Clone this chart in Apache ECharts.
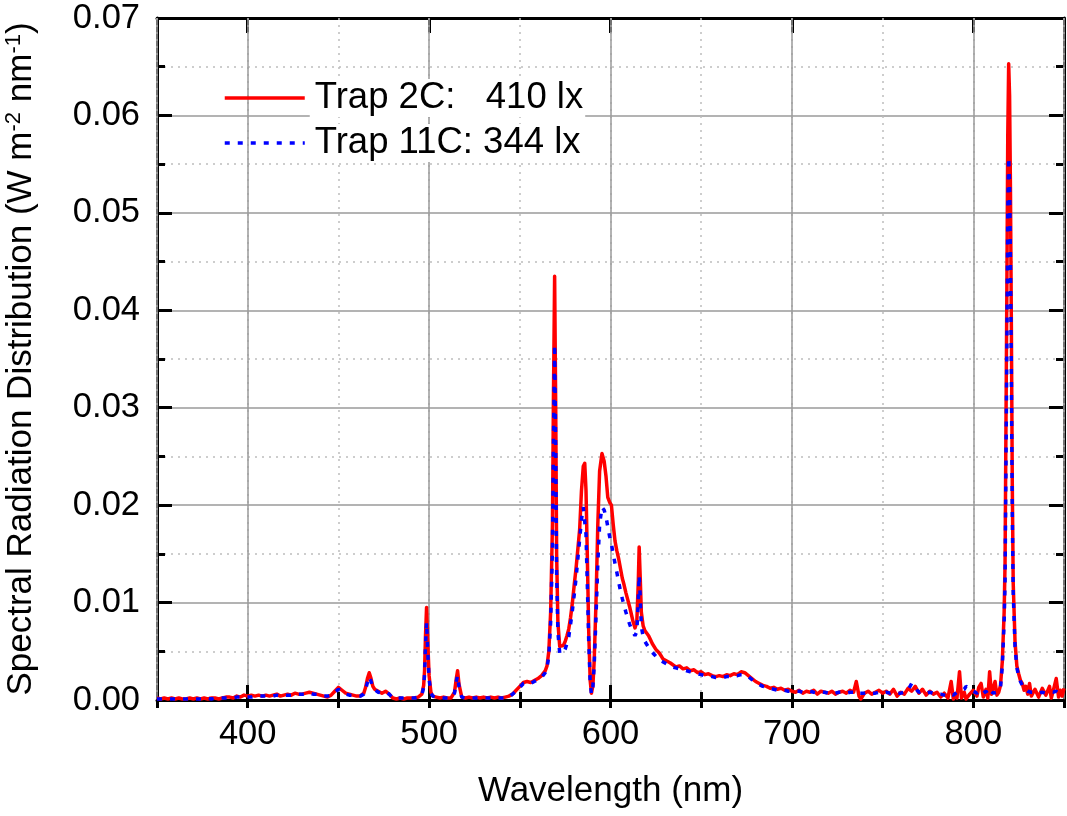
<!DOCTYPE html>
<html>
<head>
<meta charset="utf-8">
<script src="https://cdn.jsdelivr.net/npm/echarts@6/dist/echarts.min.js"></script>
<style>
html,body{margin:0;padding:0;background:#fff;}
#chart{width:1067px;height:816px;}
</style>
</head>
<body>
<div id="chart"></div>
<script>
// Wavelengths (nm)
var wavelength = [
  350,352,354,356,358,360,362,364,366,368,
  370,372,374,376,378,380,382,384,386,388,
  390,392,394,396,398,400,402,404,406,408,
  410,412,414,416,418,420,422,424,426,428,
  430,432,434,436,438,440,
  442,444,446,448,450,452,454,456,458,460,
  462,464,465,466,467,468,469,470,472,474,
  476,478,480,482,484,486,488,490,492,494,
  496,497,497.5,498,498.6,499.2,500,501,502,504,
  506,508,510,512,513,514,515,515.7,516.5,518,
  520,522,524,526,528,530,532,534,536,538,
  540,542,544,
  546,548,550,552,554,556,558,560,562,564,
  565,566,567,568,568.5,569.2,569.8,570.3,571,572,
  573,574,575,576,577,578,579,580,581,582,
  583,584,585,585.8,586.5,587.2,588,588.8,589.5,590.3,
  591,592,593,594,595.3,596.5,597.5,598.5,599.5,600.5,
  601.5,602.5,603.5,604.5,605.5,606.5,607.5,608.5,609.5,610.5,
  611.5,612.5,613.5,614.5,615.3,615.8,616.4,617,618,619,
  620,621,622,623,624,625,626,627,628,629,
  630,631,632,633,634,636,638,640,
  642,644,646,648,650,652,654,656,658,660,
  662,664,666,668,670,672,674,676,678,680,
  682,684,686,688,690,692,694,696,698,700,
  702,704,706,708,710,712,714,716,718,720,
  722,724,726,728,730,732,734,735.5,737,738,
  740,742,744,746,748,750,752,754,756,758,
  760,762,764,766,768,770,772,774,776,778,
  780,782,784,786,787.8,789,790,791,792.4,793.5,
  795,796,798,800,802,803,804.3,805.5,807,808,
  809,810,811,812,813,814,
  815,816,817,817.5,818,818.5,819,819.5,820,820.5,
  821,821.5,822,823,824,825,826,827,828,829,
  830,831,832,834,836,838,840,842,843,844,
  845.7,847,848,849,850
];

// Trap 2C: 410 lx (W m-2 nm-1)
var trap2C = [
  .0002,.0001,.0002,.0001,.0002,.0001,.0002,.0001,.0001,.0002,
  .0001,.0002,.0001,.0002,.0001,.0002,.0002,.0001,.0002,.0003,
  .0003,.0002,.0004,.0003,.0005,.0004,.0005,.0004,.0005,.0004,
  .0005,.0004,.0005,.0006,.0004,.0005,.0006,.0005,.0007,.0006,
  .0006,.0007,.0008,.0007,.0006,.0005,
  .0004,.0003,.0005,.0009,.0013,.0010,.0007,.0006,.0005,.0004,
  .0004,.0007,.0013,.0022,.0028,.0022,.0014,.0011,.0009,.0007,
  .0009,.0006,.0002,.0001,.0002,.0001,.0002,.0002,.0002,.0003,
  .0006,.0015,.0030,.0065,.0095,.0062,.0025,.0008,.0004,.0003,
  .0002,.0003,.0002,.0002,.0003,.0008,.0022,.0030,.0016,.0003,
  .0002,.0003,.0002,.0003,.0002,.0003,.0002,.0003,.0002,.0003,
  .0002,.0003,.0004,
  .0006,.0010,.0014,.0018,.0019,.0018,.0020,.0022,.0025,.0030,
  .0035,.0050,.0090,.0180,.0300,.0435,.0300,.0150,.0080,.0055,
  .0053,.0056,.0060,.0066,.0073,.0085,.0100,.0118,.0135,.0155,
  .0175,.0215,.0240,.0243,.0215,.0150,.0070,.0020,.0007,.0015,
  .0040,.0100,.0180,.0235,.0253,.0245,.0230,.0208,.0203,.0200,
  .0180,.0163,.0153,.0145,.0135,.0125,.0118,.0110,.0103,.0096,
  .0088,.0080,.0074,.0080,.0120,.0157,.0125,.0090,.0076,.0071,
  .0069,.0066,.0062,.0058,.0056,.0052,.0050,.0048,.0046,.0042,
  .0044,.0040,.0041,.0038,.0037,.0034,.0035,.0032,
  .0033,.0030,.0031,.0028,.0029,.0026,.0027,.0025,.0024,.0025,
  .0024,.0026,.0025,.0027,.0026,.0029,.0028,.0025,.0022,.0019,
  .0017,.0015,.0014,.0012,.0013,.0011,.0012,.0010,.0011,.0009,
  .0008,.0010,.0007,.0009,.0008,.0010,.0006,.0009,.0008,.0007,
  .0009,.0006,.0008,.0009,.0007,.0010,.0008,.0019,.0004,.0001,
  .0007,.0009,.0006,.0008,.0010,.0007,.0009,.0006,.0011,.0004,
  .0008,.0006,.0012,.0009,.0014,.0007,.0011,.0005,.0009,.0006,
  .0008,.0003,.0007,.0002,.0019,.0001,.0006,.0002,.0029,.0002,
  .0008,.0001,.0006,.0010,.0004,.0013,.0017,.0003,.0011,.0002,
  .0029,.0006,.0004,.0019,.0005,.0008,
  .0015,.0040,.0090,.0140,.0280,.0420,.0580,.0653,.0620,.0520,
  .0380,.0220,.0120,.0060,.0035,.0027,.0020,.0017,.0010,.0014,
  .0006,.0017,.0004,.0011,.0003,.0012,.0005,.0014,.0002,.0009,
  .0022,.0003,.0010,.0004,.0012
];

// Trap 11C: 344 lx (W m-2 nm-1)
var trap11C = [
  .0001,.0001,.0001,.0001,.0001,.0001,.0001,.0001,.0001,.0001,
  .0001,.0001,.0001,.0001,.0002,.0001,.0002,.0002,.0002,.0002,
  .0002,.0002,.0003,.0003,.0003,.0003,.0003,.0004,.0004,.0004,
  .0004,.0004,.0004,.0005,.0004,.0005,.0005,.0005,.0005,.0006,
  .0006,.0006,.0007,.0006,.0006,.0005,
  .0004,.0004,.0005,.0008,.0011,.0009,.0006,.0005,.0005,.0004,
  .0004,.0006,.0011,.0018,.0024,.0019,.0012,.0010,.0008,.0007,
  .0008,.0006,.0002,.0002,.0002,.0002,.0002,.0002,.0002,.0003,
  .0005,.0013,.0026,.0055,.0080,.0052,.0021,.0007,.0004,.0003,
  .0002,.0002,.0002,.0002,.0003,.0007,.0019,.0025,.0013,.0003,
  .0002,.0002,.0002,.0002,.0002,.0002,.0002,.0002,.0002,.0002,
  .0002,.0002,.0003,
  .0006,.0009,.0013,.0017,.0018,.0017,.0019,.0021,.0023,.0028,
  .0033,.0045,.0080,.0155,.0255,.0365,.0255,.0130,.0070,.0048,
  .0046,.0048,.0052,.0058,.0065,.0078,.0092,.0108,.0125,.0145,
  .0165,.0185,.0198,.0196,.0170,.0120,.0060,.0018,.0006,.0014,
  .0035,.0085,.0140,.0180,.0198,.0195,.0188,.0178,.0168,.0160,
  .0150,.0140,.0131,.0121,.0112,.0104,.0097,.0090,.0084,.0078,
  .0073,.0069,.0066,.0070,.0100,.0128,.0105,.0075,.0065,.0060,
  .0057,.0054,.0051,.0049,.0047,.0045,.0043,.0042,.0040,.0039,
  .0038,.0037,.0036,.0035,.0034,.0033,.0032,.0031,
  .0030,.0029,.0028,.0027,.0026,.0025,.0025,.0024,.0023,.0023,
  .0023,.0024,.0024,.0025,.0025,.0026,.0026,.0024,.0021,.0018,
  .0016,.0014,.0013,.0012,.0011,.0010,.0010,.0010,.0009,.0009,
  .0009,.0009,.0008,.0008,.0009,.0008,.0007,.0008,.0008,.0007,
  .0008,.0007,.0008,.0008,.0007,.0008,.0008,.0009,.0007,.0006,
  .0007,.0008,.0007,.0007,.0008,.0007,.0008,.0007,.0008,.0007,
  .0007,.0008,.0010,.0017,.0012,.0008,.0009,.0007,.0008,.0007,
  .0006,.0006,.0005,.0004,.0006,.0005,.0007,.0008,.0009,.0008,
  .0011,.0014,.0012,.0009,.0007,.0008,.0010,.0007,.0009,.0006,
  .0010,.0008,.0007,.0009,.0008,.0009,
  .0013,.0035,.0080,.0120,.0240,.0360,.0500,.0557,.0530,.0450,
  .0330,.0190,.0110,.0055,.0033,.0025,.0019,.0015,.0012,.0010,
  .0009,.0010,.0008,.0008,.0007,.0008,.0007,.0008,.0007,.0008,
  .0009,.0007,.0008,.0007,.0006
];

var seriesNames = ['Trap 2C:   410 lx', 'Trap 11C: 344 lx'];
var xRange = [350, 850];
var yRange = [0, 0.07];

var FONT = "'Liberation Sans', Arial, Helvetica, sans-serif";
var chart = echarts.init(document.getElementById('chart'), null, {renderer: 'canvas'});

function pairs(vals) { return wavelength.map(function (w, i) { return [w, vals[i]]; }); }

var frameLine = {show: true, onZero: false, lineStyle: {color: '#000', width: 3}};
var majorGrid = {show: true, lineStyle: {color: '#9a9a9a', width: 1.5, type: 'solid'}};
var minorGrid = {show: true, lineStyle: {color: '#bdbdbd', width: 1.5, type: [2, 5]}};

var option = {
  animation: false,
  backgroundColor: '#fff',
  textStyle: {fontFamily: FONT},
  grid: {left: 157, right: 3, top: 18, bottom: 116, containLabel: false, outerBoundsMode: 'none'},
  legend: {
    data: seriesNames,
    orient: 'vertical',
    left: 218,
    top: 74,
    itemWidth: 80,
    itemHeight: 20,
    itemGap: 7,
    itemStyle: {opacity: 0},
    lineStyle: {width: 3.5},
    textStyle: {fontFamily: FONT, fontSize: 36.5, color: '#000', lineHeight: 38,
      backgroundColor: '#fff', padding: [0, 2, 0, 5]}
  },
  xAxis: [
    { // minor (every 50)
      type: 'value', min: xRange[0], max: xRange[1], interval: 50, position: 'bottom',
      axisLine: {show: false}, axisLabel: {show: false},
      axisTick: {show: true, inside: true, length: 8, lineStyle: {color: '#000', width: 3}},
      splitLine: minorGrid, z: 1
    },
    { // major (every 100), labelled
      type: 'value', min: xRange[0], max: xRange[1], splitNumber: 5, position: 'bottom',
      name: 'Wavelength (nm)', nameLocation: 'middle', nameGap: 74,
      nameTextStyle: {fontFamily: FONT, fontSize: 35, color: '#000'},
      axisLine: frameLine,
      axisLabel: {show: true, color: '#000', fontFamily: FONT, fontSize: 34.5, margin: 17,
        showMinLabel: false, showMaxLabel: false,
        formatter: function (v) { return (v % 100 === 0) ? String(v) : ''; }},
      axisTick: {show: true, inside: true, length: 15, lineStyle: {color: '#000', width: 3}},
      splitLine: majorGrid, z: 2
    },
    { // top minor ticks
      type: 'value', min: xRange[0], max: xRange[1], interval: 50, position: 'top',
      axisLine: {show: false}, axisLabel: {show: false}, splitLine: {show: false},
      axisTick: {show: true, inside: true, length: 8, lineStyle: {color: '#000', width: 3}}
    },
    { // top frame + major ticks
      type: 'value', min: xRange[0], max: xRange[1], splitNumber: 5, position: 'top',
      axisLine: frameLine, axisLabel: {show: false}, splitLine: {show: false},
      axisTick: {show: true, inside: true, length: 15, lineStyle: {color: '#000', width: 3}}
    }
  ],
  yAxis: [
    {
      type: 'value', min: yRange[0], max: yRange[1], interval: 0.01, position: 'left',
      name: '{a|Spectral Radiation Distribution (W m}{s|-2}{a| nm}{s|-1}{a|)}',
      nameLocation: 'middle', nameGap: 117, nameRotate: 90,
      nameTextStyle: {fontFamily: FONT, fontSize: 35, color: '#000',
        rich: {
          a: {fontFamily: FONT, fontSize: 35, color: '#000', lineHeight: 37},
          s: {fontFamily: FONT, fontSize: 22, color: '#000', verticalAlign: 'top', lineHeight: 37}
        }},
      axisLine: frameLine,
      axisLabel: {show: true, color: '#000', fontFamily: FONT, fontSize: 34.5, margin: 17,
        formatter: function (v) { return v.toFixed(2); }},
      axisTick: {show: true, inside: true, length: 15, lineStyle: {color: '#000', width: 3}},
      minorTick: {show: true, splitNumber: 2, length: 8, lineStyle: {color: '#000', width: 3}},
      splitLine: majorGrid,
      minorSplitLine: minorGrid
    },
    {
      type: 'value', min: yRange[0], max: yRange[1], interval: 0.01, position: 'right',
      axisLine: frameLine, axisLabel: {show: false}, splitLine: {show: false},
      axisTick: {show: true, inside: true, length: 15, lineStyle: {color: '#000', width: 3}},
      minorTick: {show: true, splitNumber: 2, length: 8, lineStyle: {color: '#000', width: 3}}
    }
  ],
  series: [
    {
      name: seriesNames[0], type: 'line', xAxisIndex: 1, yAxisIndex: 0,
      data: pairs(trap2C), symbol: 'none', showSymbol: false, smooth: false,
      clip: true, z: 3,
      lineStyle: {color: '#ff0000', width: 3.5, type: 'solid', join: 'round'},
      itemStyle: {color: '#ff0000'}
    },
    {
      name: seriesNames[1], type: 'line', xAxisIndex: 1, yAxisIndex: 0,
      data: pairs(trap11C), symbol: 'none', showSymbol: false, smooth: false,
      clip: true, z: 4,
      lineStyle: {color: '#0000ff', width: 3.5, type: [5, 8], cap: 'butt'},
      itemStyle: {color: '#0000ff'}
    }
  ]
};
chart.setOption(option);
</script>
</body>
</html>
